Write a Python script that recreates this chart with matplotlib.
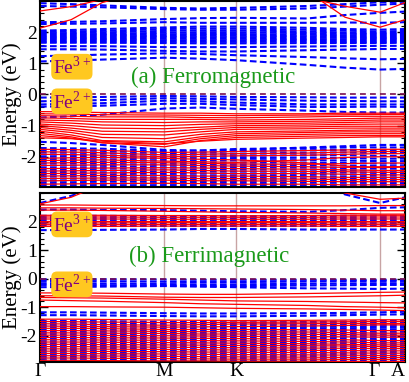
import numpy as np
import matplotlib
matplotlib.use("Agg")
import matplotlib.pyplot as plt
from matplotlib.ticker import MultipleLocator, FixedLocator

plt.rcParams['font.family'] = ['Liberation Serif', 'DejaVu Serif']
plt.rcParams['axes.unicode_minus'] = False
plt.rcParams['mathtext.fontset'] = 'custom'
plt.rcParams['mathtext.rm'] = 'Liberation Serif'

# ---------------- data ----------------
k_labels = ["Γ", "M", "K", "Γ", "A"]
k_ticks = [0.0, 1.0, 1.577, 2.732, 2.932]
k_pts = [0.0, 0.25, 0.5, 1.0, 1.29, 1.577, 2.15, 2.45, 2.732, 2.932]

# (a) ferromagnetic, spin-down (blue dashed)
fm_dn = [
    [2.93, 2.90, 2.86, 2.78, 2.76, 2.78, 2.84, 2.90, 2.96, 2.98],
    [2.84, 2.82, 2.80, 2.74, 2.72, 2.72, 2.76, 2.82, 2.88, 2.92],
    [2.32, 2.33, 2.35, 2.42, 2.45, 2.46, 2.44, 2.55, 2.62, 2.66],
    [2.26, 2.27, 2.28, 2.32, 2.30, 2.30, 2.30, 2.31, 2.30, 2.32],
    [2.05, 2.07, 2.10, 2.15, 2.18, 2.18, 2.14, 2.10, 2.08, 2.10],
    [2.00, 2.02, 2.04, 2.10, 2.12, 2.12, 2.08, 2.05, 2.02, 2.04],
    [1.96, 1.97, 1.99, 2.04, 2.06, 2.06, 2.02, 1.99, 1.97, 1.98],
    [1.92, 1.93, 1.94, 1.98, 2.00, 2.00, 1.97, 1.95, 1.93, 1.94],
    [1.88, 1.89, 1.90, 1.93, 1.94, 1.94, 1.92, 1.90, 1.89, 1.90],
    [1.84, 1.85, 1.86, 1.88, 1.89, 1.89, 1.87, 1.86, 1.85, 1.86],
    [1.80, 1.81, 1.82, 1.84, 1.84, 1.84, 1.83, 1.82, 1.81, 1.82],
    [1.77, 1.77, 1.78, 1.79, 1.79, 1.79, 1.78, 1.77, 1.77, 1.78],
    [1.73, 1.73, 1.74, 1.74, 1.74, 1.74, 1.74, 1.73, 1.73, 1.74],
    [1.69, 1.69, 1.70, 1.70, 1.69, 1.69, 1.70, 1.69, 1.69, 1.70],
    [1.66, 1.66, 1.66, 1.65, 1.64, 1.64, 1.65, 1.65, 1.65, 1.66],
    [1.55, 1.55, 1.55, 1.52, 1.52, 1.52, 1.54, 1.55, 1.56, 1.56],
    [1.45, 1.45, 1.44, 1.40, 1.38, 1.38, 1.42, 1.44, 1.46, 1.46],
    [1.23, 1.25, 1.28, 1.32, 1.30, 1.26, 1.20, 1.16, 1.13, 1.14],
    [1.06, 1.09, 1.12, 1.18, 1.15, 1.10, 0.95, 0.86, 0.80, 0.82],
    [-0.10, -0.09, -0.08, -0.05, -0.06, -0.08, -0.09, -0.10, -0.10, -0.10],
    [-0.22, -0.20, -0.18, -0.12, -0.14, -0.16, -0.20, -0.21, -0.22, -0.22],
    [-0.32, -0.30, -0.28, -0.20, -0.22, -0.26, -0.32, -0.32, -0.32, -0.32],
    [-0.39, -0.38, -0.36, -0.30, -0.30, -0.34, -0.40, -0.40, -0.39, -0.40],
    [-0.74, -0.70, -0.65, -0.45, -0.42, -0.46, -0.52, -0.56, -0.58, -0.58],
    [-1.52, -1.56, -1.62, -1.78, -1.80, -1.78, -1.70, -1.66, -1.62, -1.62],
    [-1.72, -1.73, -1.74, -1.82, -1.80, -1.75, -1.72, -1.70, -1.70, -1.70],
    [-1.79, -1.80, -1.81, -1.88, -1.87, -1.82, -1.79, -1.78, -1.80, -1.80],
    [-1.86, -1.87, -1.88, -1.94, -1.93, -1.90, -1.87, -1.86, -1.88, -1.88],
    [-1.93, -1.94, -1.95, -2.01, -2.00, -1.97, -1.95, -1.95, -1.97, -1.97],
    [-2.00, -2.00, -2.01, -2.07, -2.06, -2.04, -2.03, -2.04, -2.06, -2.06],
    [-2.07, -2.07, -2.08, -2.13, -2.12, -2.11, -2.11, -2.12, -2.14, -2.14],
    [-2.14, -2.14, -2.15, -2.20, -2.19, -2.19, -2.19, -2.20, -2.22, -2.22],
    [-2.21, -2.21, -2.22, -2.27, -2.26, -2.26, -2.27, -2.28, -2.30, -2.30],
    [-2.28, -2.28, -2.29, -2.34, -2.33, -2.33, -2.34, -2.36, -2.38, -2.38],
    [-2.35, -2.35, -2.36, -2.41, -2.40, -2.40, -2.41, -2.43, -2.45, -2.45],
    [-2.42, -2.42, -2.43, -2.48, -2.47, -2.47, -2.48, -2.50, -2.52, -2.52],
    [-2.49, -2.49, -2.50, -2.55, -2.54, -2.54, -2.55, -2.57, -2.59, -2.59],
    [-2.56, -2.56, -2.57, -2.61, -2.61, -2.61, -2.62, -2.64, -2.66, -2.66],
    [-2.63, -2.63, -2.64, -2.68, -2.68, -2.68, -2.69, -2.71, -2.72, -2.72],
    [-2.70, -2.70, -2.71, -2.74, -2.74, -2.74, -2.76, -2.77, -2.78, -2.78],
    [-2.77, -2.77, -2.78, -2.81, -2.81, -2.81, -2.82, -2.83, -2.84, -2.84],
    [-2.84, -2.84, -2.85, -2.87, -2.87, -2.87, -2.88, -2.89, -2.90, -2.90],
    [-2.91, -2.91, -2.91, -2.93, -2.93, -2.93, -2.94, -2.94, -2.95, -2.95],
]

# (a) ferromagnetic, spin-up (red solid)
fm_up = [
    [2.68, 2.82, 3.05, 3.50, 3.50, 3.50, 3.10, 2.83, 2.64, 2.95],
    [2.13, 2.40, 2.95, 3.50, 3.50, 3.50, 3.30, 2.48, 2.16, 2.40],
    [-0.55, -0.56, -0.58, -0.60, -0.60, -0.62, -0.62, -0.60, -0.60, -0.60],
    [-0.62, -0.63, -0.65, -0.66, -0.67, -0.68, -0.66, -0.65, -0.64, -0.64],
    [-0.68, -0.70, -0.72, -0.72, -0.74, -0.75, -0.72, -0.70, -0.70, -0.70],
    [-0.75, -0.77, -0.80, -0.80, -0.80, -0.82, -0.80, -0.78, -0.76, -0.76],
    [-0.82, -0.84, -0.88, -0.90, -0.88, -0.88, -0.86, -0.84, -0.82, -0.82],
    [-0.88, -0.92, -0.98, -1.00, -0.96, -0.94, -0.92, -0.90, -0.88, -0.88],
    [-0.95, -1.00, -1.08, -1.10, -1.05, -1.00, -0.98, -0.96, -0.95, -0.95],
    [-1.00, -1.08, -1.18, -1.20, -1.12, -1.06, -1.04, -1.02, -1.02, -1.02],
    [-1.06, -1.15, -1.28, -1.30, -1.20, -1.12, -1.10, -1.08, -1.08, -1.08],
    [-1.12, -1.22, -1.38, -1.42, -1.28, -1.20, -1.17, -1.15, -1.14, -1.14],
    [-1.18, -1.30, -1.48, -1.52, -1.36, -1.26, -1.22, -1.20, -1.20, -1.20],
    [-1.25, -1.36, -1.55, -1.60, -1.42, -1.32, -1.28, -1.26, -1.26, -1.26],
    [-1.32, -1.40, -1.55, -1.68, -1.48, -1.38, -1.34, -1.32, -1.32, -1.32],
    [-1.39, -1.42, -1.50, -1.58, -1.50, -1.44, -1.40, -1.38, -1.36, -1.36],
    [-1.76, -1.77, -1.79, -1.86, -1.85, -1.83, -1.80, -1.78, -1.76, -1.76],
    [-1.84, -1.85, -1.87, -1.94, -1.92, -1.90, -1.88, -1.85, -1.83, -1.83],
    [-1.92, -1.93, -1.95, -2.00, -1.99, -1.97, -1.95, -1.92, -1.90, -1.90],
    [-2.05, -2.03, -2.02, -2.05, -2.08, -2.10, -2.20, -2.30, -2.35, -2.33],
    [-2.12, -2.11, -2.10, -2.14, -2.16, -2.18, -2.10, -2.02, -2.00, -2.00],
    [-2.20, -2.19, -2.18, -2.19, -2.21, -2.23, -2.24, -2.22, -2.20, -2.20],
    [-2.28, -2.27, -2.26, -2.26, -2.28, -2.30, -2.32, -2.34, -2.32, -2.32],
    [-2.38, -2.37, -2.36, -2.35, -2.36, -2.38, -2.40, -2.42, -2.44, -2.44],
    [-2.46, -2.45, -2.44, -2.42, -2.44, -2.46, -2.47, -2.48, -2.50, -2.50],
    [-2.54, -2.53, -2.52, -2.50, -2.52, -2.54, -2.54, -2.56, -2.58, -2.58],
    [-2.62, -2.61, -2.60, -2.60, -2.62, -2.62, -2.64, -2.66, -2.66, -2.66],
    [-2.70, -2.69, -2.68, -2.68, -2.70, -2.70, -2.72, -2.73, -2.73, -2.73],
    [-2.78, -2.76, -2.75, -2.75, -2.77, -2.77, -2.79, -2.80, -2.80, -2.80],
    [-2.88, -2.87, -2.86, -2.85, -2.86, -2.88, -2.88, -2.90, -2.90, -2.90],
]

# (b) ferrimagnetic, spin-down (blue dashed)
fi_dn = [
    [2.65, 2.90, 3.30, 3.50, 3.50, 3.50, 3.50, 2.95, 2.65, 2.85],
    [2.42, 2.42, 2.41, 2.40, 2.38, 2.36, 2.34, 2.40, 2.48, 2.50],
    [2.20, 2.20, 2.20, 2.19, 2.19, 2.19, 2.19, 2.20, 2.20, 2.20],
    [2.12, 2.12, 2.12, 2.12, 2.12, 2.12, 2.12, 2.12, 2.12, 2.12],
    [2.05, 2.05, 2.05, 2.05, 2.05, 2.05, 2.05, 2.05, 2.05, 2.05],
    [1.98, 1.98, 1.98, 1.98, 1.98, 1.98, 1.98, 1.98, 1.98, 1.98],
    [1.92, 1.92, 1.92, 1.92, 1.92, 1.92, 1.92, 1.92, 1.92, 1.92],
    [1.86, 1.86, 1.86, 1.86, 1.86, 1.86, 1.86, 1.86, 1.86, 1.86],
    [1.70, 1.70, 1.71, 1.72, 1.74, 1.74, 1.72, 1.72, 1.72, 1.72],
    [-0.02, -0.02, -0.02, -0.03, -0.04, -0.04, -0.04, -0.04, -0.04, -0.04],
    [-0.08, -0.08, -0.09, -0.11, -0.12, -0.12, -0.10, -0.09, -0.08, -0.08],
    [-0.16, -0.16, -0.17, -0.19, -0.20, -0.20, -0.18, -0.17, -0.16, -0.16],
    [-0.22, -0.22, -0.23, -0.25, -0.26, -0.26, -0.24, -0.23, -0.22, -0.22],
    [-0.30, -0.29, -0.28, -0.26, -0.28, -0.30, -0.34, -0.35, -0.36, -0.35],
    [-1.18, -1.18, -1.19, -1.21, -1.22, -1.22, -1.21, -1.20, -1.18, -1.16],
    [-1.28, -1.28, -1.29, -1.31, -1.32, -1.32, -1.30, -1.28, -1.26, -1.25],
    [-1.48, -1.48, -1.49, -1.51, -1.52, -1.53, -1.52, -1.50, -1.48, -1.48],
    [-1.54, -1.54, -1.55, -1.57, -1.58, -1.59, -1.58, -1.56, -1.54, -1.54],
    [-1.60, -1.60, -1.61, -1.63, -1.64, -1.64, -1.63, -1.62, -1.60, -1.60],
    [-1.66, -1.66, -1.67, -1.69, -1.70, -1.70, -1.69, -1.68, -1.66, -1.66],
    [-1.72, -1.72, -1.73, -1.75, -1.76, -1.76, -1.75, -1.74, -1.72, -1.72],
    [-1.78, -1.78, -1.79, -1.81, -1.82, -1.82, -1.81, -1.80, -1.79, -1.79],
    [-1.84, -1.84, -1.85, -1.87, -1.88, -1.88, -1.87, -1.86, -1.85, -1.85],
    [-1.90, -1.90, -1.91, -1.93, -1.94, -1.94, -1.93, -1.92, -1.91, -1.91],
    [-1.96, -1.96, -1.97, -1.99, -2.00, -2.00, -1.99, -1.98, -1.97, -1.97],
    [-2.02, -2.02, -2.03, -2.05, -2.06, -2.06, -2.05, -2.04, -2.03, -2.03],
    [-2.08, -2.08, -2.09, -2.11, -2.12, -2.12, -2.11, -2.10, -2.09, -2.09],
    [-2.14, -2.14, -2.15, -2.17, -2.18, -2.18, -2.17, -2.16, -2.15, -2.15],
    [-2.20, -2.20, -2.21, -2.23, -2.24, -2.24, -2.23, -2.22, -2.21, -2.21],
    [-2.26, -2.26, -2.27, -2.29, -2.30, -2.30, -2.29, -2.28, -2.27, -2.27],
    [-2.32, -2.32, -2.33, -2.35, -2.36, -2.36, -2.35, -2.34, -2.33, -2.33],
    [-2.38, -2.38, -2.39, -2.41, -2.42, -2.42, -2.41, -2.40, -2.39, -2.39],
    [-2.44, -2.44, -2.45, -2.47, -2.48, -2.48, -2.47, -2.46, -2.45, -2.45],
    [-2.50, -2.50, -2.51, -2.53, -2.54, -2.54, -2.53, -2.52, -2.51, -2.51],
    [-2.56, -2.56, -2.57, -2.59, -2.60, -2.60, -2.59, -2.58, -2.57, -2.57],
    [-2.62, -2.62, -2.63, -2.65, -2.66, -2.66, -2.65, -2.64, -2.63, -2.63],
    [-2.68, -2.68, -2.69, -2.71, -2.72, -2.72, -2.71, -2.70, -2.69, -2.69],
    [-2.74, -2.74, -2.75, -2.77, -2.78, -2.78, -2.77, -2.76, -2.75, -2.75],
    [-2.80, -2.80, -2.81, -2.83, -2.84, -2.84, -2.83, -2.82, -2.81, -2.81],
    [-2.86, -2.86, -2.87, -2.88, -2.89, -2.89, -2.88, -2.87, -2.86, -2.86],
    [-2.91, -2.91, -2.91, -2.92, -2.92, -2.92, -2.92, -2.92, -2.91, -2.91],
]

# (b) ferrimagnetic, spin-up (red solid)
fi_up = [
    [2.62, 2.85, 3.30, 3.50, 3.50, 3.50, 3.50, 3.00, 2.78, 2.82],
    [2.58, 2.58, 2.57, 2.56, 2.55, 2.55, 2.55, 2.55, 2.56, 2.56],
    [2.48, 2.48, 2.47, 2.46, 2.45, 2.44, 2.42, 2.40, 2.38, 2.38],
    [2.40, 2.40, 2.39, 2.36, 2.34, 2.32, 2.30, 2.28, 2.26, 2.26],
    [2.22, 2.22, 2.22, 2.21, 2.21, 2.20, 2.21, 2.22, 2.22, 2.22],
    [2.16, 2.16, 2.16, 2.15, 2.15, 2.15, 2.15, 2.16, 2.16, 2.16],
    [2.09, 2.09, 2.09, 2.08, 2.08, 2.08, 2.08, 2.09, 2.09, 2.09],
    [2.02, 2.02, 2.02, 2.02, 2.02, 2.02, 2.02, 2.02, 2.02, 2.02],
    [1.95, 1.95, 1.95, 1.96, 1.96, 1.96, 1.96, 1.95, 1.95, 1.95],
    [1.89, 1.89, 1.89, 1.90, 1.90, 1.90, 1.90, 1.89, 1.89, 1.89],
    [1.83, 1.83, 1.83, 1.84, 1.84, 1.84, 1.84, 1.83, 1.83, 1.83],
    [-0.50, -0.50, -0.51, -0.54, -0.55, -0.55, -0.52, -0.50, -0.48, -0.47],
    [-0.60, -0.60, -0.61, -0.65, -0.66, -0.66, -0.64, -0.62, -0.60, -0.58],
    [-0.66, -0.67, -0.68, -0.72, -0.75, -0.78, -0.80, -0.82, -0.84, -0.85],
    [-0.75, -0.77, -0.79, -0.84, -0.88, -0.90, -0.94, -0.98, -1.00, -1.02],
    [-0.98, -0.98, -0.99, -1.00, -1.02, -1.04, -1.06, -1.08, -1.10, -1.12],
    [-1.42, -1.42, -1.43, -1.45, -1.46, -1.47, -1.46, -1.45, -1.44, -1.44],
    [-1.50, -1.51, -1.52, -1.54, -1.54, -1.53, -1.52, -1.51, -1.50, -1.50],
    [-1.58, -1.59, -1.61, -1.63, -1.61, -1.59, -1.58, -1.57, -1.57, -1.57],
    [-1.66, -1.67, -1.68, -1.70, -1.69, -1.68, -1.66, -1.64, -1.62, -1.62],
    [-1.74, -1.74, -1.75, -1.78, -1.78, -1.78, -1.79, -1.80, -1.82, -1.82],
    [-1.82, -1.82, -1.83, -1.85, -1.86, -1.86, -1.87, -1.89, -1.91, -1.91],
    [-1.90, -1.90, -1.91, -1.92, -1.94, -1.94, -1.95, -1.96, -1.98, -1.98],
    [-1.98, -1.98, -1.99, -2.00, -2.01, -2.02, -2.03, -2.04, -2.05, -2.05],
    [-2.06, -2.06, -2.07, -2.08, -2.09, -2.10, -2.12, -2.14, -2.17, -2.17],
    [-2.14, -2.14, -2.15, -2.16, -2.17, -2.18, -2.20, -2.22, -2.25, -2.25],
    [-2.22, -2.22, -2.23, -2.24, -2.25, -2.26, -2.28, -2.30, -2.32, -2.32],
    [-2.30, -2.30, -2.31, -2.32, -2.33, -2.34, -2.35, -2.36, -2.38, -2.38],
    [-2.38, -2.38, -2.39, -2.40, -2.41, -2.42, -2.43, -2.44, -2.45, -2.45],
    [-2.46, -2.46, -2.47, -2.48, -2.49, -2.50, -2.51, -2.52, -2.53, -2.53],
    [-2.54, -2.54, -2.55, -2.56, -2.57, -2.58, -2.59, -2.60, -2.61, -2.61],
    [-2.62, -2.62, -2.63, -2.64, -2.65, -2.66, -2.67, -2.68, -2.69, -2.69],
    [-2.70, -2.70, -2.71, -2.72, -2.73, -2.74, -2.75, -2.76, -2.76, -2.76],
    [-2.78, -2.78, -2.79, -2.80, -2.81, -2.82, -2.82, -2.83, -2.83, -2.83],
    [-2.86, -2.86, -2.87, -2.88, -2.88, -2.89, -2.89, -2.90, -2.90, -2.90],
]

panel_titles = ["(a) Ferromagnetic", "(b) Ferrimagnetic"]
title_pos = [(1.39, 0.55), (1.36, 0.77)]
fe3_pos = [(0.256, 0.89), (0.256, 1.90)]
fe2_pos = [(0.256, -0.22), (0.256, -0.20)]
ylims = [(-2.97, 3.0), (-2.92, 3.0)]

# ---------------- figure ----------------
W, H = 409, 382
fig = plt.figure(figsize=(W / 100, H / 100), dpi=100)
ax_top = fig.add_axes([40 / W, 1 - 187 / H, 365 / W, 186 / H])
ax_bot = fig.add_axes([40 / W, 1 - 362 / H, 365 / W, 169 / H])

panels = [(ax_top, fm_dn, fm_up), (ax_bot, fi_dn, fi_up)]
for i, (ax, dn, up) in enumerate(panels):
    for b in dn:
        ax.plot(k_pts, b, color='#0000ff', lw=1.5, ls=(0, (3.2, 1.6)), zorder=2)
    for b in up:
        ax.plot(k_pts, b, color='#ff0000', lw=0.9, zorder=3)
    ax.axhline(0, color='#7a1050', lw=1.2, ls=(0, (3.5, 2.5)), zorder=4)
    for kx in k_ticks[1:4]:
        ax.axvline(kx, color='#c8a4a4', lw=1.0, zorder=1)
    ax.set_xlim(k_ticks[0], k_ticks[-1])
    ax.set_ylim(*ylims[i])
    ax.yaxis.set_major_locator(FixedLocator([-2, -1, 0, 1, 2]))
    ax.yaxis.set_minor_locator(MultipleLocator(0.2))
    ax.tick_params(axis='y', which='both', direction='in', left=True, right=True,
                   labelsize=14, pad=2)
    ax.tick_params(axis='y', which='major', length=6, width=1)
    ax.tick_params(axis='y', which='minor', length=3, width=0.8)
    for s in ax.spines.values():
        s.set_linewidth(1.5)
    ax.set_ylabel("Energy (eV)", fontsize=15, va='center')
    ax.yaxis.set_label_coords(-28 / 365, 0.5)
    ax.text(*title_pos[i], panel_titles[i], color='#1a9a1a', fontsize=16.5,
            ha='center', va='center', zorder=6)
    for pos, lab in ((fe3_pos[i], r"Fe$^{3+}$"), (fe2_pos[i], r"Fe$^{2+}$")):
        ax.text(*pos, lab, color='#800080', fontsize=14, ha='center', va='center',
                zorder=7,
                bbox=dict(boxstyle='round,pad=0.08,rounding_size=0.3',
                          fc='#ffc820', ec='none'))

ax_top.set_xticks(k_ticks)
ax_top.tick_params(axis='x', length=0, labelbottom=False)
ax_bot.set_xticks(k_ticks)
ax_bot.set_xticklabels(k_labels)
ax_bot.tick_params(axis='x', length=0, labelsize=14, pad=1)
xlabs = ax_bot.get_xticklabels()
xlabs[-1].set_horizontalalignment('right')
xlabs[-2].set_horizontalalignment('right')

fig.savefig("out.png", dpi=100)
